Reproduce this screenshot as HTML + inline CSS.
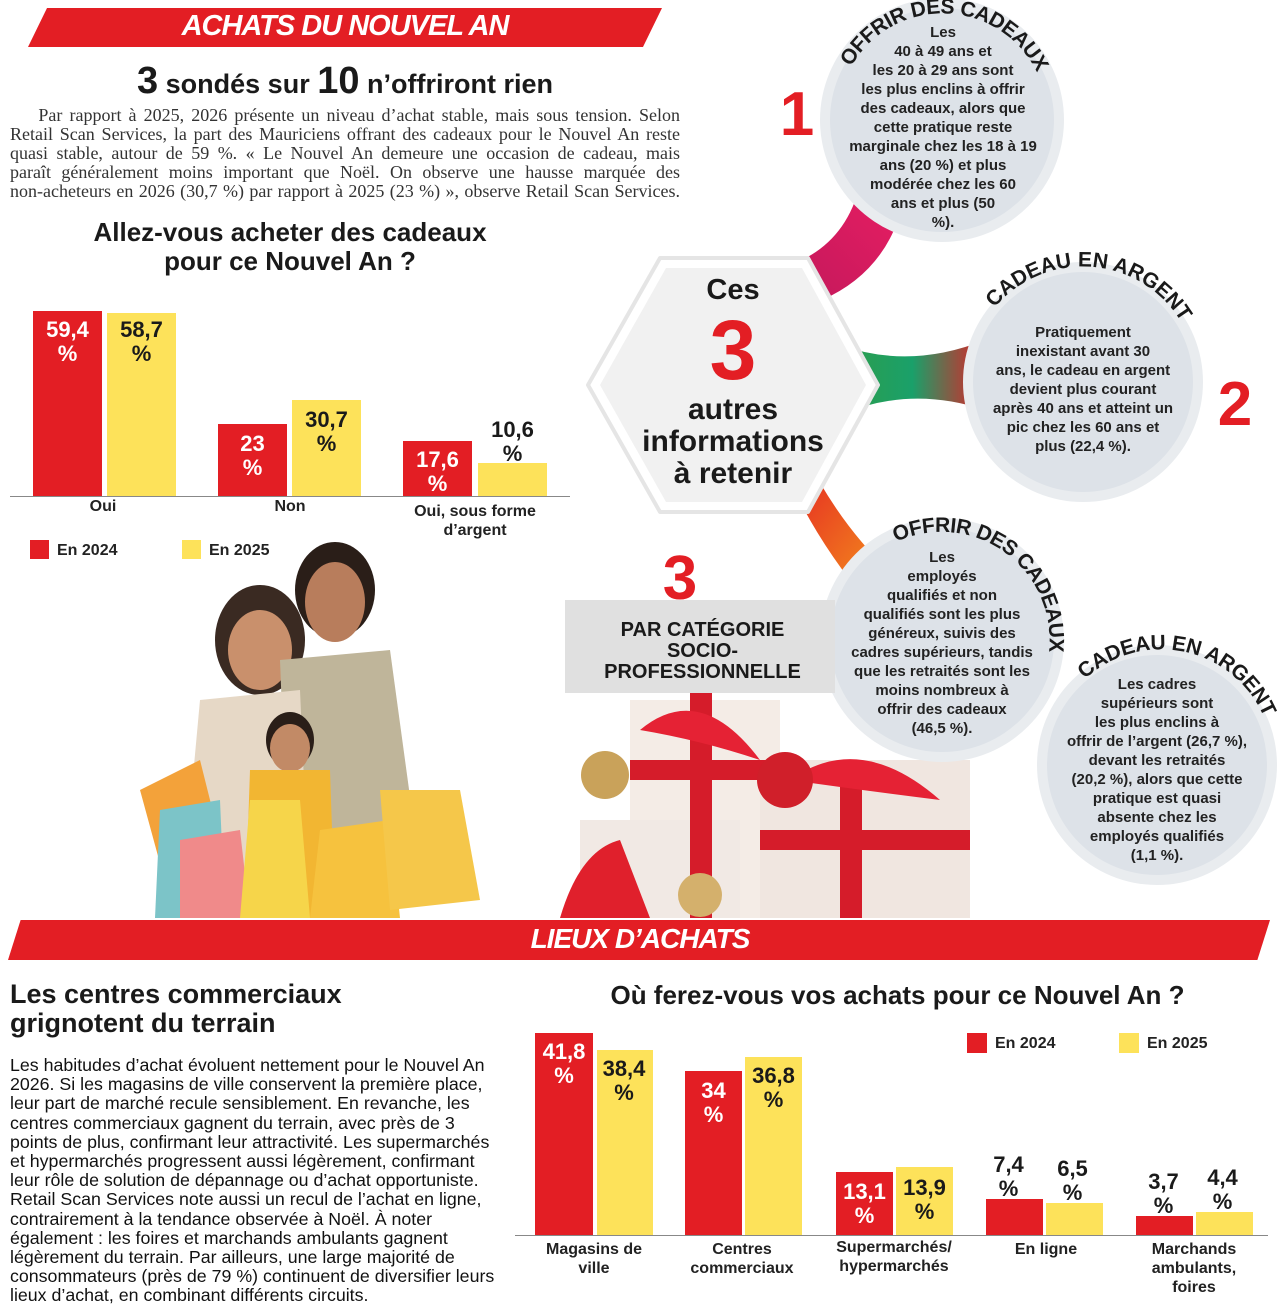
<!DOCTYPE html>
<html><head><meta charset="utf-8"><style>
*{margin:0;padding:0;box-sizing:border-box}
body{width:1280px;height:1310px;background:#fff;position:relative;overflow:hidden;font-family:"Liberation Sans",sans-serif;color:#1a1a1a}
.a{position:absolute}
.b{position:absolute;font-weight:bold}
.para{font-family:"Liberation Serif",serif;font-size:18px;line-height:19px;color:#333}
.para div{text-align:justify;text-align-last:justify;white-space:nowrap}
.lbl{position:absolute;font-weight:bold;font-size:22px;text-align:center;line-height:24px}
.xl{position:absolute;font-weight:bold;font-size:16px;text-align:center;line-height:19px;color:#222}
.ct{position:absolute;font-weight:bold;font-size:15px;line-height:19px;text-align:center;color:#222}
</style></head><body>
<!-- top banner -->
<div class="a" style="left:28px;top:8px;width:634px;height:39px;background:#e31e24;clip-path:polygon(3% 0,100% 0,97% 100%,0 100%)"></div>
<div class="b" style="left:28px;top:10px;width:634px;text-align:center;color:#fff;font-size:29px;font-style:italic;letter-spacing:-1px">ACHATS DU NOUVEL AN</div>
<div class="b" style="left:0;top:60px;width:690px;text-align:center;font-size:27px"><span style="font-size:38px">3</span> sondés sur <span style="font-size:38px">10</span> n’offriront rien</div>
<div class="a para" style="left:10px;top:106px;width:670px">
<div>&nbsp;&nbsp;&nbsp;&nbsp;Par rapport à 2025, 2026 présente un niveau d’achat stable, mais sous tension. Selon</div>
<div>Retail Scan Services, la part des Mauriciens offrant des cadeaux pour le Nouvel An reste</div>
<div>quasi stable, autour de 59 %. « Le Nouvel An demeure une occasion de cadeau, mais</div>
<div>paraît généralement moins important que Noël. On observe une hausse marquée des</div>
<div>non-acheteurs en 2026 (30,7 %) par rapport à 2025 (23 %) », observe Retail Scan Services.</div>
</div>
<div class="b" style="left:0;top:218px;width:580px;text-align:center;font-size:26px;line-height:29px">Allez-vous acheter des cadeaux<br>pour ce Nouvel An ?</div>
<!-- chart1 -->
<div class="a" style="left:33px;top:311px;width:69px;height:185px;background:#e31e24"></div>
<div class="a" style="left:107px;top:313px;width:69px;height:183px;background:#fde25a"></div>
<div class="a" style="left:218px;top:424px;width:69px;height:72px;background:#e31e24"></div>
<div class="a" style="left:292px;top:400px;width:69px;height:96px;background:#fde25a"></div>
<div class="a" style="left:403px;top:441px;width:69px;height:55px;background:#e31e24"></div>
<div class="a" style="left:478px;top:463px;width:69px;height:33px;background:#fde25a"></div>
<div class="a" style="left:10px;top:496px;width:560px;height:1px;background:#888"></div>
<div class="lbl" style="left:33px;top:318px;width:69px;color:#fff">59,4<br>%</div>
<div class="lbl" style="left:107px;top:318px;width:69px">58,7<br>%</div>
<div class="lbl" style="left:218px;top:432px;width:69px;color:#fff">23<br>%</div>
<div class="lbl" style="left:292px;top:408px;width:69px">30,7<br>%</div>
<div class="lbl" style="left:403px;top:448px;width:69px;color:#fff">17,6<br>%</div>
<div class="lbl" style="left:478px;top:418px;width:69px">10,6<br>%</div>
<div class="xl" style="left:53px;top:497px;width:100px">Oui</div>
<div class="xl" style="left:240px;top:497px;width:100px">Non</div>
<div class="xl" style="left:400px;top:502px;width:150px">Oui, sous forme<br>d’argent</div>
<div class="a" style="left:30px;top:540px;width:19px;height:19px;background:#e31e24"></div>
<div class="xl" style="left:57px;top:541px">En 2024</div>
<div class="a" style="left:182px;top:540px;width:19px;height:19px;background:#fde25a"></div>
<div class="xl" style="left:209px;top:541px">En 2025</div>
<!-- family photo approximation -->
<svg class="a" style="left:140px;top:540px" width="360" height="378">
<ellipse cx="120" cy="100" rx="45" ry="55" fill="#3a2a22"/>
<ellipse cx="120" cy="110" rx="32" ry="40" fill="#c9906c"/>
<ellipse cx="195" cy="50" rx="40" ry="48" fill="#2a1e18"/>
<ellipse cx="195" cy="62" rx="30" ry="40" fill="#b87d5c"/>
<path d="M140 120 L250 110 L280 330 L150 378 Z" fill="#bfb59a"/>
<path d="M60 160 L160 150 L170 378 L40 378 Z" fill="#e6d8c6"/>
<ellipse cx="150" cy="200" rx="24" ry="28" fill="#2a1e18"/>
<ellipse cx="150" cy="208" rx="20" ry="24" fill="#c28a66"/>
<path d="M110 230 L190 230 L195 378 L105 378 Z" fill="#f2b632"/>
<path d="M0 250 L60 220 L90 340 L30 360 Z" fill="#f3a23a"/>
<path d="M20 270 L80 260 L85 378 L15 378 Z" fill="#7cc4c8"/>
<path d="M40 300 L100 290 L110 378 L40 378 Z" fill="#f08a8a"/>
<path d="M180 290 L250 280 L260 378 L170 378 Z" fill="#f6c23e"/>
<path d="M240 250 L320 250 L340 360 L250 370 Z" fill="#f5c74a"/>
<path d="M110 260 L160 260 L170 378 L100 378 Z" fill="#f6d54a"/>
</svg>
<!-- right infographic -->
<svg class="a" style="left:560px;top:0" width="720" height="918">
<defs>
<linearGradient id="g1" x1="0" y1="1" x2="1" y2="0"><stop offset="0" stop-color="#c2185b"/><stop offset="1" stop-color="#e91e63"/></linearGradient>
<linearGradient id="g2" x1="0" y1="0" x2="1" y2="0"><stop offset="0" stop-color="#2e9d4a"/><stop offset="0.5" stop-color="#1aa06a"/><stop offset="1" stop-color="#e31e24"/></linearGradient>
<linearGradient id="g3" x1="0" y1="0" x2="1" y2="1"><stop offset="0" stop-color="#e31e24"/><stop offset="1" stop-color="#f7a21b"/></linearGradient>
<path id="c1" d="M291 67 A105 105 0 0 1 487 129"/>
<path id="c2" d="M432 311 A115 115 0 0 1 623 325"/>
<path id="c3" d="M336 542 A108 108 0 0 1 475 694"/>
<path id="c4" d="M522 682 A112 112 0 0 1 705 803"/>
</defs>
<!-- gifts -->
<rect x="70" y="700" width="150" height="218" fill="#f4ece6"/>
<rect x="20" y="820" width="160" height="98" fill="#f1e9e4"/>
<rect x="200" y="760" width="210" height="158" fill="#f0e6e0"/>
<rect x="130" y="690" width="22" height="228" fill="#d51c2a"/>
<rect x="70" y="760" width="150" height="20" fill="#d51c2a"/>
<rect x="280" y="760" width="22" height="158" fill="#d51c2a"/>
<rect x="200" y="830" width="210" height="20" fill="#d51c2a"/>
<path d="M80 730 Q140 680 200 760 Q140 740 80 730Z" fill="#e52234"/>
<path d="M230 780 Q300 730 380 800 Q300 790 230 780Z" fill="#e52234"/>
<circle cx="45" cy="775" r="24" fill="#c9a25a"/>
<circle cx="225" cy="780" r="28" fill="#d01f2a"/>
<circle cx="140" cy="895" r="22" fill="#d4b06c"/>
<path d="M0 918 Q20 850 60 840 L90 918Z" fill="#e0202c"/>
<!-- ribbons -->
<path d="M230 265 Q285 245 300 185 L345 195 Q330 270 262 300Z" fill="url(#g1)"/>
<path d="M280 345 Q350 370 425 340 L425 410 Q350 385 280 415Z" fill="url(#g2)"/>
<path d="M245 455 Q285 535 345 585 L310 605 Q255 540 225 470Z" fill="url(#g3)"/>
<!-- circles -->
<circle cx="382" cy="120" r="122" fill="#e9ecef"/><circle cx="382" cy="120" r="112" fill="#dde2e8"/>
<circle cx="523" cy="382" r="120" fill="#e9ecef"/><circle cx="523" cy="382" r="110" fill="#dde2e8"/>
<circle cx="382" cy="640" r="122" fill="#e9ecef"/><circle cx="382" cy="640" r="112" fill="#dde2e8"/>
<circle cx="597" cy="765" r="120" fill="#e9ecef"/><circle cx="597" cy="765" r="110" fill="#dde2e8"/>
<!-- hexagon -->
<polygon points="100,258 248,258 318,385 248,512 100,512 28,385" fill="#fff" stroke="#e5e5e5" stroke-width="4" stroke-linejoin="round"/>
<polygon points="106,268 242,268 306,385 242,502 106,502 40,385" fill="#f1f1f1"/>
<text font-family="Liberation Sans" font-weight="bold" font-size="21" letter-spacing="-0.5" fill="#1a1a1a"><textPath href="#c1">OFFRIR DES CADEAUX</textPath></text>
<text font-family="Liberation Sans" font-weight="bold" font-size="21" fill="#1a1a1a"><textPath href="#c2" startOffset="4">CADEAU EN ARGENT</textPath></text>
<text font-family="Liberation Sans" font-weight="bold" font-size="21" letter-spacing="-0.5" fill="#1a1a1a"><textPath href="#c3">OFFRIR DES CADEAUX</textPath></text>
<text font-family="Liberation Sans" font-weight="bold" font-size="21" letter-spacing="-0.3" fill="#1a1a1a"><textPath href="#c4" startOffset="4">CADEAU EN ARGENT</textPath></text>
<text x="237" y="135" font-family="Liberation Sans" font-weight="bold" font-size="62" fill="#e31e24" text-anchor="middle">1</text>
<text x="675" y="425" font-family="Liberation Sans" font-weight="bold" font-size="62" fill="#e31e24" text-anchor="middle">2</text>
</svg>
<div class="b" style="left:593px;top:274px;width:280px;text-align:center;font-size:29px">Ces</div>
<div class="b" style="left:593px;top:305px;width:280px;text-align:center;font-size:84px;color:#e31e24;line-height:90px">3</div>
<div class="b" style="left:593px;top:394px;width:280px;text-align:center;font-size:30px;line-height:32px">autres<br>informations<br>à retenir</div>
<div class="ct" style="left:838px;top:23px;width:210px">Les<br>40 à 49 ans et<br>les 20 à 29 ans sont<br>les plus enclins à offrir<br>des cadeaux, alors que<br>cette pratique reste<br>marginale chez les 18 à 19<br>ans (20 %) et plus<br>modérée chez les 60<br>ans et plus (50<br>%).</div>
<div class="ct" style="left:978px;top:323px;width:210px">Pratiquement<br>inexistant avant 30<br>ans, le cadeau en argent<br>devient plus courant<br>après 40 ans et atteint un<br>pic chez les 60 ans et<br>plus (22,4 %).</div>
<div class="ct" style="left:836px;top:548px;width:212px">Les<br>employés<br>qualifiés et non<br>qualifiés sont les plus<br>généreux, suivis des<br>cadres supérieurs, tandis<br>que les retraités sont les<br>moins nombreux à<br>offrir des cadeaux<br>(46,5 %).</div>
<div class="ct" style="left:1052px;top:675px;width:210px">Les cadres<br>supérieurs sont<br>les plus enclins à<br>offrir de l’argent (26,7 %),<br>devant les retraités<br>(20,2 %), alors que cette<br>pratique est quasi<br>absente chez les<br>employés qualifiés<br>(1,1 %).</div>
<div class="a" style="left:565px;top:600px;width:270px;height:93px;background:#e0e0e0"></div>
<div class="b" style="left:640px;top:546px;width:80px;text-align:center;font-size:62px;color:#e31e24;line-height:66px">3</div>
<div class="b" style="left:565px;top:620px;width:275px;text-align:center;font-size:20px;line-height:21px">PAR CATÉGORIE<br>SOCIO-<br>PROFESSIONNELLE</div>
<!-- second banner -->
<div class="a" style="left:8px;top:920px;width:1262px;height:40px;background:#e31e24;clip-path:polygon(1% 0,100% 0,99% 100%,0 100%)"></div>
<div class="b" style="left:0;top:923px;width:1280px;text-align:center;color:#fff;font-size:28px;font-style:italic;letter-spacing:-1px">LIEUX D’ACHATS</div>
<div class="b" style="left:10px;top:980px;font-size:27px;line-height:29px">Les centres commerciaux<br>grignotent du terrain</div>
<div class="a" style="left:10px;top:1056px;width:500px;font-size:17.8px;line-height:19.2px;color:#111;white-space:nowrap">Les habitudes d’achat évoluent nettement pour le Nouvel An<br>2026. Si les magasins de ville conservent la première place,<br>leur part de marché recule sensiblement. En revanche, les<br>centres commerciaux gagnent du terrain, avec près de 3<br>points de plus, confirmant leur attractivité. Les supermarchés<br>et hypermarchés progressent aussi légèrement, confirmant<br>leur rôle de solution de dépannage ou d’achat opportuniste.<br>Retail Scan Services note aussi un recul de l’achat en ligne,<br>contrairement à la tendance observée à Noël. À noter<br>également : les foires et marchands ambulants gagnent<br>légèrement du terrain. Par ailleurs, une large majorité de<br>consommateurs (près de 79 %) continuent de diversifier leurs<br>lieux d’achat, en combinant différents circuits.</div>
<div class="b" style="left:520px;top:980px;width:755px;text-align:center;font-size:26px">Où ferez-vous vos achats pour ce Nouvel An ?</div>
<!-- chart2 -->
<div class="a" style="left:535px;top:1033px;width:58px;height:202px;background:#e31e24"></div>
<div class="a" style="left:597px;top:1050px;width:56px;height:185px;background:#fde25a"></div>
<div class="a" style="left:685px;top:1071px;width:57px;height:164px;background:#e31e24"></div>
<div class="a" style="left:745px;top:1057px;width:57px;height:178px;background:#fde25a"></div>
<div class="a" style="left:836px;top:1172px;width:57px;height:63px;background:#e31e24"></div>
<div class="a" style="left:896px;top:1167px;width:57px;height:68px;background:#fde25a"></div>
<div class="a" style="left:986px;top:1199px;width:57px;height:36px;background:#e31e24"></div>
<div class="a" style="left:1046px;top:1203px;width:57px;height:32px;background:#fde25a"></div>
<div class="a" style="left:1136px;top:1216px;width:57px;height:19px;background:#e31e24"></div>
<div class="a" style="left:1196px;top:1212px;width:57px;height:23px;background:#fde25a"></div>
<div class="a" style="left:515px;top:1235px;width:753px;height:1px;background:#888"></div>
<div class="lbl" style="left:535px;top:1040px;width:58px;color:#fff">41,8<br>%</div>
<div class="lbl" style="left:595px;top:1057px;width:58px">38,4<br>%</div>
<div class="lbl" style="left:685px;top:1079px;width:57px;color:#fff">34<br>%</div>
<div class="lbl" style="left:745px;top:1064px;width:57px">36,8<br>%</div>
<div class="lbl" style="left:836px;top:1180px;width:57px;color:#fff">13,1<br>%</div>
<div class="lbl" style="left:896px;top:1176px;width:57px">13,9<br>%</div>
<div class="lbl" style="left:980px;top:1153px;width:57px">7,4<br>%</div>
<div class="lbl" style="left:1044px;top:1157px;width:57px">6,5<br>%</div>
<div class="lbl" style="left:1135px;top:1170px;width:57px">3,7<br>%</div>
<div class="lbl" style="left:1194px;top:1166px;width:57px">4,4<br>%</div>
<div class="xl" style="left:530px;top:1240px;width:128px">Magasins de<br>ville</div>
<div class="xl" style="left:678px;top:1240px;width:128px">Centres<br>commerciaux</div>
<div class="xl" style="left:825px;top:1238px;width:138px">Supermarchés/<br>hypermarchés</div>
<div class="xl" style="left:982px;top:1240px;width:128px">En ligne</div>
<div class="xl" style="left:1130px;top:1240px;width:128px">Marchands<br>ambulants,<br>foires</div>
<div class="a" style="left:967px;top:1033px;width:20px;height:20px;background:#e31e24"></div>
<div class="xl" style="left:995px;top:1034px">En 2024</div>
<div class="a" style="left:1119px;top:1033px;width:20px;height:20px;background:#fde25a"></div>
<div class="xl" style="left:1147px;top:1034px">En 2025</div>
</body></html>
